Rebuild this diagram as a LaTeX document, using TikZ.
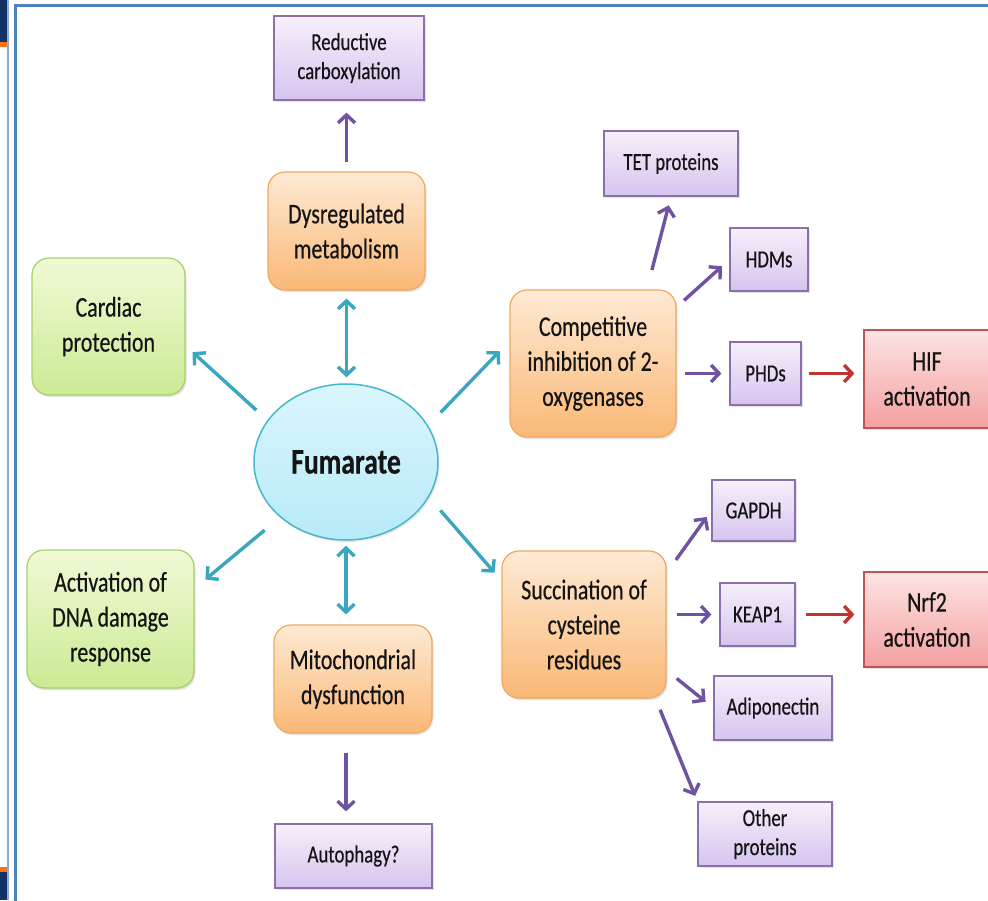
\documentclass[tikz,border=0pt]{standalone}
\usepackage{fontspec}
\setmainfont[FakeStretch=0.77,FakeBold=0.4]{Carlito}
\usetikzlibrary{arrows.meta,shapes.geometric,shadows}

% palette
\definecolor{tealarrow}{RGB}{58,166,192}
\definecolor{purparrow}{RGB}{112,82,162}
\definecolor{redarrow}{RGB}{194,52,48}
\definecolor{ptop}{RGB}{246,240,252}
\definecolor{pbot}{RGB}{214,196,238}
\definecolor{pline}{RGB}{140,112,172}
\definecolor{otop}{RGB}{254,234,212}
\definecolor{obot}{RGB}{250,184,118}
\definecolor{oline}{RGB}{240,168,96}
\definecolor{gtop}{RGB}{240,250,214}
\definecolor{gbot}{RGB}{204,234,148}
\definecolor{gline}{RGB}{168,208,106}
\definecolor{rtop}{RGB}{253,228,228}
\definecolor{rbot}{RGB}{244,160,160}
\definecolor{rline}{RGB}{192,84,84}
\definecolor{ftop}{RGB}{218,246,253}
\definecolor{fbot}{RGB}{184,234,248}
\definecolor{fline}{RGB}{72,182,204}
\definecolor{frameblue}{RGB}{79,129,189}
\definecolor{edgeblue}{RGB}{140,172,212}
\definecolor{navy}{RGB}{18,50,102}
\definecolor{stripe}{RGB}{250,112,24}
\definecolor{ink}{RGB}{20,20,20}

\newcommand\boxfontL{\fontsize{28.5}{35}\selectfont}
\newcommand\boxfontS{\fontsize{24.5}{29}\selectfont}
\newcommand\fumfont{\fontsize{36}{40}\selectfont\bfseries}

\tikzset{
  sz/.style 2 args={minimum width=#1pt, minimum height=#2pt},
  basebox/.style={rectangle, align=center, inner sep=2pt, text=ink,
    execute at begin node={\vspace*{5pt}},
    drop shadow={opacity=0.22, shadow xshift=1.5pt, shadow yshift=-2pt}},
  pbox/.style={basebox, draw=pline, line width=1.2pt, top color=ptop,
    bottom color=pbot, font=\boxfontS},
  obox/.style={basebox, draw=oline, line width=1.2pt, top color=otop,
    bottom color=obot, rounded corners=17pt, font=\boxfontL},
  gbox/.style={basebox, draw=gline, line width=1.2pt, top color=gtop,
    bottom color=gbot, rounded corners=17pt, font=\boxfontL},
  rbox/.style={basebox, draw=rline, line width=1.2pt, top color=rtop,
    bottom color=rbot, font=\boxfontL},
  fumnode/.style={ellipse, draw=fline, line width=1.5pt, top color=ftop,
    bottom color=fbot, minimum width=184pt, minimum height=156pt,
    inner sep=0pt, font=\fumfont, text=ink,
    drop shadow={opacity=0.18, shadow xshift=1.5pt, shadow yshift=-2pt}},
  >={Straight Barb[length=8pt,width=17pt]},
  tarr/.style={draw=tealarrow, line width=3.4pt},
  parr/.style={draw=purparrow, line width=3.4pt},
  rarr/.style={draw=redarrow, line width=3.4pt}
}

\begin{document}
\begin{tikzpicture}[x=1pt,y=-1pt]
\useasboundingbox (0,0) rectangle (988,900);
\fill[white] (0,0) rectangle (988,900);

% slide frame
\fill[navy] (0,0) rectangle (7,42);
\fill[stripe] (0,42) rectangle (7,47);
\fill[stripe] (0,867) rectangle (7,872);
\fill[navy] (0,872) rectangle (7,900);
\draw[edgeblue, line width=2pt] (7.5,0) -- (7.5,900);
\draw[frameblue, line width=2.2pt] (15.5,905) -- (15.5,5.5) -- (995,5.5);

% nodes
\node[fumnode] (fum) at (346,462) {Fumarate};
\node[obox, sz={157}{118}] (dys) at (346.5,231) {Dysregulated\\metabolism};
\node[pbox, sz={150}{84}] (red) at (349,58) {Reductive\\carboxylation};
\node[gbox, sz={153}{137}] (card) at (108.5,326.5) {Cardiac\\protection};
\node[gbox, sz={167}{138}] (dna) at (110.5,619) {Activation of\\DNA damage\\response};
\node[obox, sz={158}{108}] (mit) at (353,679) {Mitochondrial\\dysfunction};
\node[pbox, sz={157}{64}] (aut) at (353.5,856) {Autophagy?};
\node[obox, sz={166}{147}] (comp) at (593,363.5) {Competitive\\inhibition of 2-\\oxygenases};
\node[pbox, sz={134}{65}] (tet) at (671,163.5) {TET proteins};
\node[pbox, sz={78}{63}] (hdm) at (769,259.5) {HDMs};
\node[pbox, sz={71}{63}] (phd) at (765.5,373.5) {PHDs};
\node[rbox, sz={126}{98}] (hif) at (927,379) {HIF\\activation};
\node[obox, sz={164}{147}] (suc) at (584,624.5) {Succination of\\cysteine\\residues};
\node[pbox, sz={83}{61}] (gap) at (753.5,510.5) {GAPDH};
\node[pbox, sz={75}{63}] (kea) at (757.5,614.5) {KEAP1};
\node[rbox, sz={126}{95}] (nrf) at (927,619.5) {Nrf2\\activation};
\node[pbox, sz={118}{64}] (adi) at (773,708) {Adiponectin};
\node[pbox, sz={134}{64}] (oth) at (765,834) {Other\\proteins};

% connectors from fumarate
\draw[tarr,<->,shorten <=8pt,shorten >=6pt] (dys.south) -- (dys.south |- fum.north);
\draw[tarr,<->,shorten <=5pt,shorten >=10pt] (fum.south) -- (fum.south |- mit.north);
\draw[tarr,->,shorten <=15pt,shorten >=9.5pt] (fum.152) -- (card.-14);
\draw[tarr,->,shorten <=20pt,shorten >=14pt] (fum.220) -- (dna.20);
\draw[tarr,->,shorten <=18pt,shorten >=14pt] (fum.24) -- (comp.165);
\draw[tarr,->,shorten <=17.5pt,shorten >=10.5pt] (fum.-23) -- (suc.152);

% downstream effects
\draw[parr,->,shorten <=9pt,shorten >=12pt] (dys.north) -- (dys.north |- red.south);
\draw[parr,->,shorten <=19pt,shorten >=12pt] (fum.south |- mit.south) -- (fum.south |- aut.north);
\draw[parr,->,shorten <=20pt,shorten >=9pt] (comp.54) -- (tet.south);
\draw[parr,->,shorten <=10pt,shorten >=10pt] (comp.34) -- (hdm.west);
\draw[parr,->,shorten <=8pt,shorten >=8pt] (comp.east |- phd.west) -- (phd.west);
\draw[rarr,->,shorten <=7pt,shorten >=9pt] (phd.east) -- (phd.east -| hif.west);
\draw[parr,->,shorten <=16pt,shorten >=8pt] (suc.32) -- (gap.west);
\draw[parr,->,shorten <=10pt,shorten >=8pt] (suc.east |- kea.west) -- (kea.west);
\draw[rarr,->,shorten <=10pt,shorten >=9pt] (kea.east) -- (kea.east -| nrf.west);
\draw[parr,->,shorten <=13pt,shorten >=10pt] (suc.-29) -- (adi.west);
\draw[parr,->,shorten <=12pt,shorten >=6pt] (suc.-46.5) -- (oth.north west);
\end{tikzpicture}
\end{document}
